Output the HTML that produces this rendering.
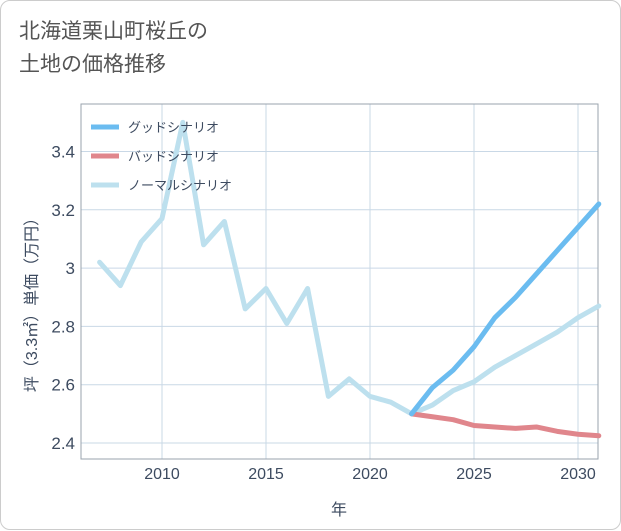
<!DOCTYPE html>
<html><head><meta charset="utf-8"><style>
body{margin:0;background:#fff;font-family:"Liberation Sans","Noto Sans CJK JP",sans-serif;}
#card{position:absolute;left:0;top:0;width:619px;height:528px;border:1px solid #ccc;border-radius:10px;background:#fff;}
#title{position:absolute;left:18px;top:14px;font-size:21px;line-height:33px;color:#555;}
</style></head><body>
<div id="card">
<div id="title">北海道栗山町桜丘の<br>土地の価格推移</div>
<svg id="chart" width="621" height="530" style="position:absolute;left:0;top:0"></svg>
</div>
<script>
const years=[2007,2008,2009,2010,2011,2012,2013,2014,2015,2016,2017,2018,2019,2020,2021,2022,2023,2024,2025,2026,2027,2028,2029,2030,2031];
const normalVals=[3.02,2.94,3.09,3.17,3.50,3.08,3.16,2.86,2.93,2.81,2.93,2.56,2.62,2.56,2.54,2.50,2.53,2.58,2.61,2.66,2.70,2.74,2.78,2.83,2.87];
const futureYears=[2022,2023,2024,2025,2026,2027,2028,2029,2030,2031];
const goodVals=[2.50,2.59,2.65,2.73,2.83,2.90,2.98,3.06,3.14,3.22];
const badVals=[2.50,2.49,2.48,2.46,2.455,2.45,2.455,2.44,2.43,2.425];
const xTicks=[2010,2015,2020,2025,2030];
const yTicks=[2.4,2.6,2.8,3.0,3.2,3.4];
const yTickLabels=["2.4","2.6","2.8","3","3.2","3.4"];
const L=80,R=597,T=103,B=458;
const xs=y=>161+(y-2010)*20.8;
const ys=v=>442-(v-2.4)*291.5;
const svg=document.getElementById('chart');
const NS='http://www.w3.org/2000/svg';
const TXT='#3d4b60';
function mk(tag,attrs,parent){const e=document.createElementNS(NS,tag);for(const k in attrs)e.setAttribute(k,attrs[k]);(parent||svg).appendChild(e);return e;}
xTicks.forEach(y=>{
  const l=mk('line',{x1:xs(y),x2:xs(y),y1:T,y2:B,stroke:'#c9d8e6','stroke-width':1});
  
  const t=mk('text',{x:xs(y),y:478,'text-anchor':'middle','font-size':16,fill:TXT});t.textContent=y;
  
});
yTicks.forEach((v,i)=>{
  const l=mk('line',{x1:L,x2:R,y1:ys(v),y2:ys(v),stroke:'#c9d8e6','stroke-width':1});
  
  const t=mk('text',{x:74,y:ys(v)+6,'text-anchor':'end','font-size':17,fill:TXT});t.textContent=yTickLabels[i];
  
});
const fr=mk('rect',{x:L,y:T,width:R-L,height:B-T,fill:'none',stroke:'#9aa3ad','stroke-width':1});

const xt=mk('text',{x:338,y:514,'text-anchor':'middle','font-size':16,fill:TXT});xt.textContent='年';

const yt=mk('text',{x:0,y:0,transform:'translate(36,300) rotate(-90)','text-anchor':'middle','font-size':16,fill:TXT});yt.textContent='坪（3.3㎡）単価（万円）';

function line(xv,yv,color,name){
  const p=mk('polyline',{points:xv.map((x,i)=>xs(x)+','+ys(yv[i])).join(' '),fill:'none',stroke:color,'stroke-width':5,'stroke-linejoin':'round','stroke-linecap':'round'});
  
}
line(years,normalVals,'#bde0ee','normal-scenario-line');
line(futureYears,badVals,'#e0868c','bad-scenario-line');
line(futureYears,goodVals,'#6bbcf0','good-scenario-line');
[['グッドシナリオ','#6bbcf0'],['バッドシナリオ','#e0868c'],['ノーマルシナリオ','#bde0ee']].forEach((d,i)=>{
  const y=126+i*29;
  const g=mk('g',{});
  mk('line',{x1:90,x2:118,y1:y,y2:y,stroke:d[1],'stroke-width':5},g);
  const t=mk('text',{x:127,y:y+5,'font-size':13,fill:TXT},g);t.textContent=d[0];
});
</script>
</body></html>
